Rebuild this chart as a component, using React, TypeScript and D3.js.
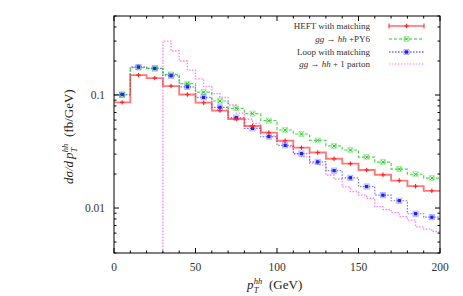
import * as d3 from "d3";
import React from "react";

// 10 GeV bins (lower edges) for the three matched samples
const binLow10 = [0, 10, 20, 30, 40, 50, 60, 70, 80, 90, 100, 110, 120, 130, 140, 150, 160, 170, 180, 190];
const heftMatching = [0.086, 0.15, 0.141, 0.12, 0.101, 0.0855, 0.0727, 0.0613, 0.0532, 0.0464, 0.0394, 0.0342, 0.031, 0.0273, 0.0247, 0.0217, 0.0197, 0.0175, 0.0156, 0.0142];
const ggPY6 = [0.1, 0.175, 0.172, 0.152, 0.126, 0.106, 0.0885, 0.0762, 0.0684, 0.0593, 0.049, 0.0452, 0.0397, 0.0354, 0.0326, 0.0282, 0.0255, 0.0221, 0.0199, 0.0184];
const loopMatching = [0.101, 0.177, 0.172, 0.148, 0.118, 0.0954, 0.0778, 0.063, 0.0507, 0.0428, 0.0359, 0.0303, 0.0256, 0.0214, 0.0185, 0.0155, 0.013, 0.0116, 0.0089, 0.0083];

// 5 GeV bins for the 1-parton sample (starts at 30 GeV)
const binLow5 = [30, 35, 40, 45, 50, 55, 60, 65, 70, 75, 80, 85, 90, 95, 100, 105, 110, 115, 120, 125, 130, 135, 140, 145, 150, 155, 160, 165, 170, 175, 180, 185, 190, 195];
const onePartonVals = [0.3, 0.245, 0.2, 0.166, 0.139, 0.119, 0.103, 0.095, 0.0816, 0.069, 0.061, 0.056, 0.047, 0.0434, 0.0387, 0.0349, 0.03, 0.0284, 0.0249, 0.024, 0.0196, 0.018, 0.0154, 0.014, 0.013, 0.0122, 0.0103, 0.0097, 0.0091, 0.0084, 0.0078, 0.0068, 0.0065, 0.0062];

const xTicks = [0, 50, 100, 150, 200];
const xMinor = [10, 20, 30, 40, 60, 70, 80, 90, 110, 120, 130, 140, 160, 170, 180, 190];
const yTicks = [0.01, 0.1];
const yMinor = [0.004, 0.005, 0.006, 0.007, 0.008, 0.009, 0.02, 0.03, 0.04, 0.05, 0.06, 0.07, 0.08, 0.09, 0.2, 0.3, 0.4, 0.5];

const W = 463;
const H = 296;
const left = 114;
const right = 440;
const top = 16;
const bottom = 253;

const font = "'Liberation Serif', 'DejaVu Serif', serif";

// "pre" + p_T^hh + "post", laid out from x0 on a baseline at y0
function PtLabel({ x0, y0, pre, preW, post }: { x0: number; y0: number; pre: string; preW: number; post: string }) {
  const px = x0 + preW;
  return (
    <g fontFamily={font} fill="#222">
      {pre && (
        <text x={x0} y={y0} fontSize={13} fontStyle="italic">
          {pre}
        </text>
      )}
      <text x={px} y={y0} fontSize={13} fontStyle="italic">
        p
      </text>
      <text x={px + 6.8} y={y0 + 3.5} fontSize={8.5} fontStyle="italic">
        T
      </text>
      <text x={px + 6.8} y={y0 - 5.5} fontSize={8.5} fontStyle="italic">
        hh
      </text>
      <text x={px + 22} y={y0} fontSize={13}>
        {post}
      </text>
    </g>
  );
}

export default function App() {
  const x = d3.scaleLinear().domain([0, 200]).range([left, right]);
  const y = d3.scaleLog().domain([0.004, 0.5]).range([bottom, top]);

  // histogram step path
  const steps = (lows: number[], vals: number[], width: number, fromBottom = false) => {
    let d = "";
    lows.forEach((lo, i) => {
      const yy = y(vals[i]);
      if (i === 0) {
        d += fromBottom ? `M${x(lo)},${bottom}L${x(lo)},${yy}` : `M${x(lo)},${yy}`;
      } else {
        d += `L${x(lo)},${yy}`;
      }
      d += `L${x(lo + width)},${yy}`;
    });
    return d;
  };

  const plus = (cx: number, cy: number, c: string, k: string) => (
    <path key={k} d={`M${cx - 2.2},${cy}h4.4M${cx},${cy - 2.2}v4.4`} stroke={c} strokeWidth={1.1} fill="none" />
  );
  const cross = (cx: number, cy: number, c: string, k: string) => (
    <g key={k}>
      <rect x={cx - 2.5} y={cy - 2.5} width={5} height={5} fill="none" stroke={c} strokeOpacity={0.45} strokeWidth={0.8} />
      <path d={`M${cx - 1.8},${cy - 1.8}l3.6,3.6M${cx - 1.8},${cy + 1.8}l3.6,-3.6`} stroke={c} strokeWidth={1} />
    </g>
  );
  const square = (cx: number, cy: number, c: string, k: string) => (
    <g key={k}>
      <rect x={cx - 2.6} y={cy - 2.6} width={5.2} height={5.2} fill="none" stroke={c} strokeOpacity={0.4} strokeWidth={0.8} />
      <rect x={cx - 1.7} y={cy - 1.7} width={3.4} height={3.4} fill={c} />
    </g>
  );

  const red = "#ff2020";
  const green = "#20d020";
  const blue = "#2020ff";
  const pink = "#ff80ff";

  const legendRows = [
    { label: <tspan>HEFT with matching</tspan>, color: red, dash: "", marker: plus },
    {
      label: (
        <>
          <tspan fontStyle="italic">gg</tspan> → <tspan fontStyle="italic">hh</tspan> +PY6
        </>
      ),
      color: green,
      dash: "3,2",
      marker: cross,
    },
    { label: <tspan>Loop with matching</tspan>, color: blue, dash: "1.5,1.5", marker: square },
    {
      label: (
        <>
          <tspan fontStyle="italic">gg</tspan> → <tspan fontStyle="italic">hh</tspan> + 1 parton
        </>
      ),
      color: pink,
      dash: "1.5,1.5",
      marker: null,
    },
  ];
  const legendY = [26, 39, 52, 64];

  return (
    <svg width={W} height={H} style={{ position: "absolute", left: 0, top: 0, background: "white" }}>
      <defs>
        <clipPath id="plot">
          <rect x={left} y={top} width={right - left} height={bottom - top} />
        </clipPath>
      </defs>

      <g clipPath="url(#plot)">
        <path d={steps(binLow5, onePartonVals, 5, true)} fill="none" stroke={pink} strokeWidth={1.3} strokeDasharray="1.5,1.5" />
        <path d={steps(binLow10, loopMatching, 10)} fill="none" stroke={blue} strokeOpacity={0.6} strokeWidth={1.2} strokeDasharray="1.5,1.5" />
        <path d={steps(binLow10, ggPY6, 10)} fill="none" stroke={green} strokeOpacity={0.8} strokeWidth={1.2} strokeDasharray="3,2" />
        <path d={steps(binLow10, heftMatching, 10)} fill="none" stroke={red} strokeOpacity={0.6} strokeWidth={1.8} />
        {binLow10.map((lo, i) => cross(x(lo + 5), y(ggPY6[i]), green, `g${i}`))}
        {binLow10.map((lo, i) => square(x(lo + 5), y(loopMatching[i]), blue, `b${i}`))}
        {binLow10.map((lo, i) => plus(x(lo + 5), y(heftMatching[i]), red, `r${i}`))}
      </g>

      {/* frame and ticks */}
      <rect x={left} y={top} width={right - left} height={bottom - top} fill="none" stroke="#000" strokeWidth={1} />
      {xTicks.map((t) => (
        <g key={`xt${t}`}>
          <line x1={x(t)} x2={x(t)} y1={bottom} y2={bottom - 5} stroke="#000" />
          <line x1={x(t)} x2={x(t)} y1={top} y2={top + 5} stroke="#000" />
          <text x={x(t)} y={271} textAnchor="middle" fontFamily={font} fontSize={11.5} fill="#333">
            {t}
          </text>
        </g>
      ))}
      {xMinor.map((t) => (
        <g key={`xm${t}`}>
          <line x1={x(t)} x2={x(t)} y1={bottom} y2={bottom - 2.5} stroke="#000" />
          <line x1={x(t)} x2={x(t)} y1={top} y2={top + 2.5} stroke="#000" />
        </g>
      ))}
      {yTicks.map((t) => (
        <g key={`yt${t}`}>
          <line x1={left} x2={left + 5} y1={y(t)} y2={y(t)} stroke="#000" />
          <line x1={right} x2={right - 5} y1={y(t)} y2={y(t)} stroke="#000" />
          <text x={105} y={y(t) + 4} textAnchor="end" fontFamily={font} fontSize={11.5} fill="#333">
            {t}
          </text>
        </g>
      ))}
      {yMinor.map((t) => (
        <g key={`ym${t}`}>
          <line x1={left} x2={left + 2.5} y1={y(t)} y2={y(t)} stroke="#000" />
          <line x1={right} x2={right - 2.5} y1={y(t)} y2={y(t)} stroke="#000" />
        </g>
      ))}

      {/* axis titles */}
      <PtLabel x0={247} y0={289} pre="" preW={0} post="(GeV)" />
      <g transform="translate(73,0) rotate(-90)">
        <PtLabel x0={-184} y0={0} pre="dσ/d" preW={25} post="(fb/GeV)" />
      </g>

      {/* legend */}
      {legendRows.map((r, i) => (
        <g key={`lg${i}`}>
          <text x={370} y={legendY[i] + 3} textAnchor="end" fontFamily={font} fontSize={9} fill="#333">
            {r.label}
          </text>
          <line x1={389} x2={424} y1={legendY[i]} y2={legendY[i]} stroke={r.color} strokeWidth={1.2} strokeDasharray={r.dash} />
          {r.marker === plus && (
            <path d={`M389,${legendY[i] - 2.5}v5M424,${legendY[i] - 2.5}v5`} stroke={r.color} strokeWidth={1} />
          )}
          {r.marker && r.marker(406.5, legendY[i], r.color, `lm${i}`)}
        </g>
      ))}
    </svg>
  );
}
